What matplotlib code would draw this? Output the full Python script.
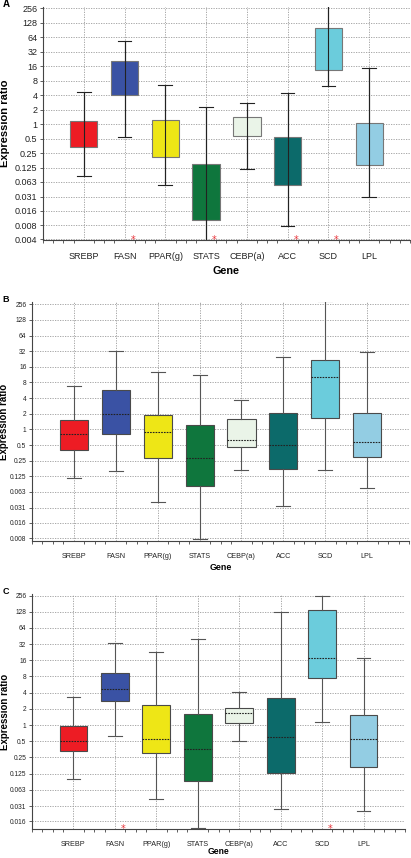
import numpy as np
import matplotlib.pyplot as plt

plt.rcParams['font.family'] = ['Liberation Sans', 'DejaVu Sans']

genes = ["SREBP", "FASN", "PPAR(g)", "STATS", "CEBP(a)", "ACC", "SCD", "LPL"]
box_colors = ["#ED1C24", "#3A52A4", "#EEE616", "#0F763D", "#EAF4E8", "#0C6A6A", "#6BCCDC", "#93CDE3"]

# whisker low, q1, median, q3, whisker high per gene
panel_a_lo = [0.082, 0.55, 0.054, 0.0035, 0.118, 0.0078, 6.2, 0.030]
panel_a_q1 = [0.33, 4.1, 0.21, 0.0101, 0.57, 0.054, 13.7, 0.141]
panel_a_q3 = [1.19, 20.4, 1.25, 0.148, 1.41, 0.54, 98, 1.08]
panel_a_hi = [4.7, 53, 6.6, 2.28, 2.75, 4.5, 300, 14.4]
panel_a_stars = [1, 3, 5, 6]

panel_b_lo = [0.115, 0.16, 0.041, 0.0078, 0.168, 0.034, 0.164, 0.076]
panel_b_q1 = [0.40, 0.81, 0.28, 0.082, 0.46, 0.17, 1.66, 0.30]
panel_b_med = [0.83, 1.95, 0.88, 0.28, 0.63, 0.51, 10.0, 0.58]
panel_b_q3 = [1.52, 5.8, 1.89, 1.23, 1.61, 2.06, 21.8, 2.1]
panel_b_hi = [6.96, 33, 12.9, 11.1, 3.76, 24.9, 300, 31]

panel_c_lo = [0.097, 0.62, 0.042, 0.012, 0.51, 0.0276, 1.16, 0.025]
panel_c_q1 = [0.33, 2.77, 0.30, 0.092, 1.07, 0.126, 7.47, 0.165]
panel_c_med = [0.51, 4.75, 0.56, 0.36, 1.66, 0.59, 18.0, 0.54]
panel_c_q3 = [0.97, 9.4, 2.35, 1.61, 2.08, 3.16, 139, 1.53]
panel_c_hi = [3.3, 33, 22.6, 40.5, 4.17, 126, 250, 17.5]
panel_c_stars = [1, 6]

tick_vals = [256, 128, 64, 32, 16, 8, 4, 2, 1, 0.5, 0.25, 0.125, 0.063, 0.031, 0.016, 0.008, 0.004]
tick_labels = ["256", "128", "64", "32", "16", "8", "4", "2", "1", "0.5", "0.25", "0.125",
               "0.063", "0.031", "0.016", "0.008", "0.004"]


def draw_panel(ax, lo, q1, med, q3, hi, n_ticks, ylim, stars, fs_y, fs_x, fs_lab, fs_gene, show_med):
    pos = np.arange(1, len(genes) + 1)
    stats = []
    for i in range(len(genes)):
        m = med[i] if show_med else q1[i]
        stats.append({"whislo": lo[i], "q1": q1[i], "med": m, "q3": q3[i], "whishi": hi[i]})
    wcol = "#222222" if not show_med else "#555555"
    bp = ax.bxp(stats, positions=pos, widths=0.67, patch_artist=True, showfliers=False,
                whiskerprops=dict(color=wcol, lw=0.8),
                capprops=dict(color=wcol, lw=0.8),
                medianprops=dict(color="#222222", lw=0.8, linestyle=(0, (1.5, 1)),
                                 visible=show_med),
                boxprops=dict(lw=0.8), zorder=3)
    for patch, c in zip(bp["boxes"], box_colors):
        patch.set_facecolor(c)
        patch.set_edgecolor("#777777" if not show_med else "#4a4a4a")
    if not show_med:
        # panel A shows the whisker line running through the box
        ax.vlines(pos, lo, hi, color="#222222", lw=0.8, zorder=4)

    ax.set_yscale("log", base=2)
    ax.set_ylim(*ylim)
    ax.set_xlim(0, 9)
    ax.set_yticks(tick_vals[:n_ticks])
    ax.set_yticklabels(tick_labels[:n_ticks], fontsize=fs_y, color="#222222")
    ax.yaxis.set_minor_locator(plt.NullLocator())
    ax.set_xticks(pos)
    ax.set_xticklabels(genes, fontsize=fs_x, color="#222222")
    ax.set_xticks(np.arange(0, 9.01, 0.25), minor=True)
    ax.tick_params(axis="x", which="major", length=0, pad=9)
    ax.tick_params(axis="x", which="minor", length=2.5, width=0.6, color="#444444")
    ax.tick_params(axis="y", length=2.5, width=0.6, color="#444444", pad=1.5)
    ax.grid(True, which="major", color="#9a9a9a", lw=0.6, linestyle=(0, (1.5, 1.5)), zorder=0)
    ax.set_axisbelow(True)
    for s in ["top", "right"]:
        ax.spines[s].set_visible(False)
    for s in ["left", "bottom"]:
        ax.spines[s].set_color("#444444")
        ax.spines[s].set_linewidth(0.8)
    ax.set_xlabel("Gene", fontsize=fs_gene, fontweight="bold", labelpad=2)
    ax.set_ylabel("Expression ratio", fontsize=fs_lab, fontweight="bold")
    for k in stars:
        ax.text(pos[k] + 0.2, ylim[0], "*", color="#E8343A", fontsize=7,
                ha="center", va="center", clip_on=False, fontfamily="DejaVu Sans")


fig = plt.figure(figsize=(4.11, 8.58), dpi=100)

ax_a = fig.add_axes([0.1046, 0.7203, 0.8929, 0.2716])
draw_panel(ax_a, panel_a_lo, panel_a_q1, None, panel_a_q3, panel_a_hi, 17,
           (2.0 ** -8, 2.0 ** 8.1), panel_a_stars, 6.5, 6.5, 8.0, 7.8, False)
ax_a.xaxis.labelpad = 3
ax_a.yaxis.set_label_coords(-0.09, 0.5)

ax_b = fig.add_axes([0.0779, 0.3695, 0.9173, 0.2786])
draw_panel(ax_b, panel_b_lo, panel_b_q1, panel_b_med, panel_b_q3, panel_b_hi, 16,
           (2.0 ** -7.13, 2.0 ** 8.15), [], 4.8, 5.2, 7.0, 6.4, True)
ax_b.yaxis.set_label_coords(-0.062, 0.5)

ax_c = fig.add_axes([0.0779, 0.0338, 0.9075, 0.2739])
draw_panel(ax_c, panel_c_lo, panel_c_q1, panel_c_med, panel_c_q3, panel_c_hi, 15,
           (2.0 ** -6.43, 2.0 ** 8.1), panel_c_stars, 4.8, 5.2, 7.0, 6.2, True)
ax_c.yaxis.set_label_coords(-0.058, 0.5)
ax_c.xaxis.set_label_coords(0.5, -0.078)

fig.text(3 / 411, 1 - 4 / 858, "A", fontsize=7, fontweight="bold", va="center")
fig.text(2 / 411, 1 - 299 / 858, "B", fontsize=6.5, fontweight="bold", va="center")
fig.text(3 / 411, 1 - 591 / 858, "C", fontsize=6.5, fontweight="bold", va="center")

fig.savefig("out.png", dpi=100)
